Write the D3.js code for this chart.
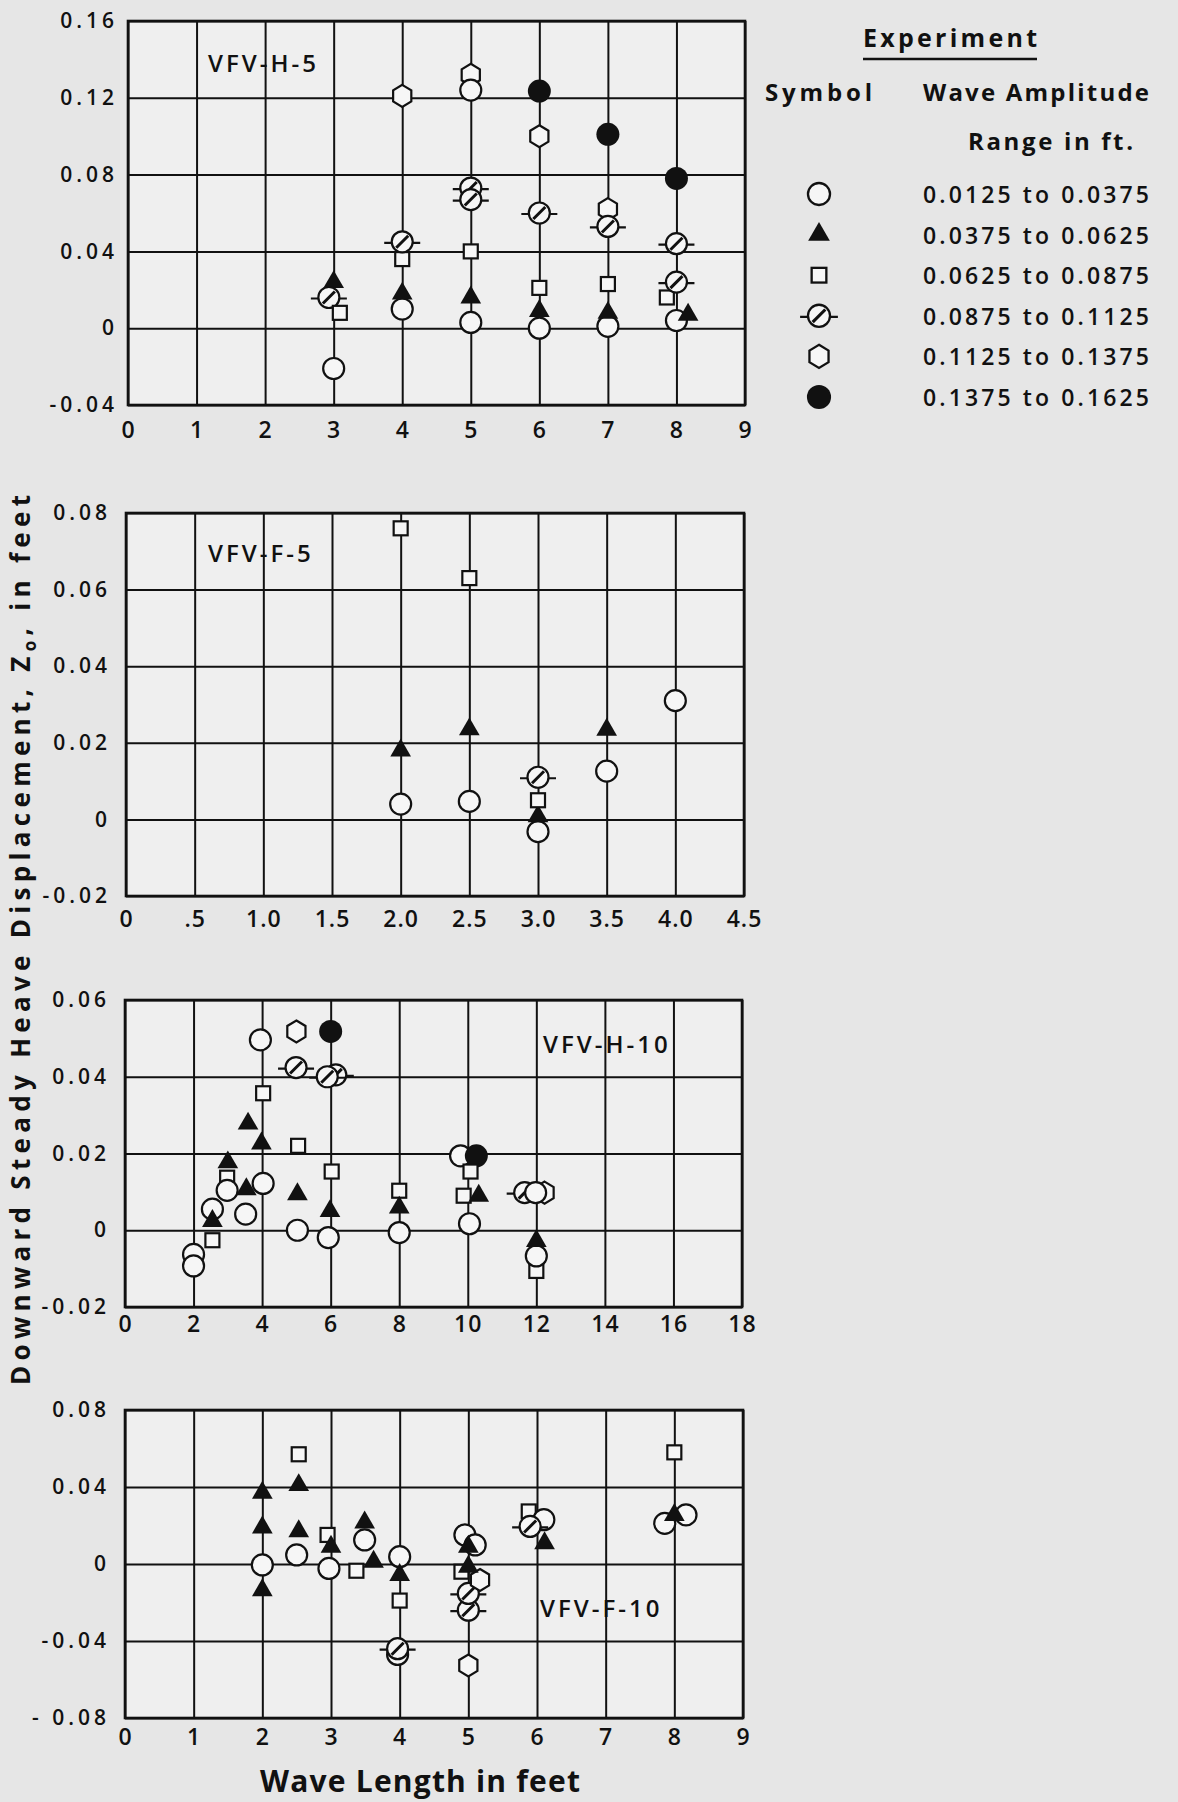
<!DOCTYPE html>
<html>
<head>
<meta charset="utf-8">
<script src="https://cdn.jsdelivr.net/npm/d3@7"></script>
<style>
  body { margin: 0; background: #e6e6e6; }
  svg text { font-family: "Open Sans", "DejaVu Sans", sans-serif; fill: #111; }
</style>
</head>
<body>
<svg id="chart" width="1178" height="1802"></svg>
<script>
/* -------------------------------------------------------------------------- */
// symbols: c = open circle, t = triangle, s = square, d = slashed circle,
//          h = hexagon, f = filled circle
// each point: [symbol, wave length (ft), heave (ft)]

const h5Points = [
  ["t", 3, 0.024], ["d", 2.93, 0.016], ["s", 3.09, 0.008], ["c", 3, -0.021],
  ["h", 4, 0.121], ["s", 4, 0.036], ["d", 4, 0.045], ["c", 4, 0.010], ["t", 4, 0.018],
  ["h", 5, 0.132], ["c", 5, 0.124], ["d", 5, 0.073], ["d", 5, 0.067], ["s", 5, 0.040], ["c", 5, 0.003], ["t", 5, 0.016],
  ["f", 6, 0.1235], ["h", 6, 0.100], ["d", 6, 0.060], ["s", 6, 0.021], ["c", 6, 0.000], ["t", 6, 0.009],
  ["f", 7, 0.101], ["h", 7, 0.062], ["d", 7, 0.053], ["s", 7, 0.023], ["c", 7, 0.001], ["t", 7, 0.008],
  ["f", 8, 0.078], ["d", 8, 0.044], ["s", 7.86, 0.016], ["d", 8, 0.024], ["c", 8, 0.004], ["t", 8.17, 0.007]
];

const f5Points = [
  ["s", 2, 0.076], ["t", 2, 0.018], ["c", 2, 0.004],
  ["s", 2.5, 0.063], ["t", 2.5, 0.0235], ["c", 2.5, 0.0047],
  ["c", 3, -0.0032], ["t", 3, 0.0008], ["s", 3, 0.005], ["d", 3, 0.011],
  ["t", 3.5, 0.0234], ["c", 3.5, 0.0126],
  ["c", 4, 0.031]
];

const h10Points = [
  ["c", 2.0, -0.0063], ["c", 2.0, -0.0093],
  ["s", 2.55, -0.0026], ["c", 2.55, 0.0055], ["t", 2.55, 0.0024],
  ["s", 2.98, 0.0137], ["c", 2.98, 0.0104], ["t", 3.0, 0.0177],
  ["c", 3.52, 0.0042], ["t", 3.54, 0.0107], ["t", 3.59, 0.0278],
  ["c", 4.03, 0.0122], ["t", 3.98, 0.0226], ["s", 4.03, 0.0357], ["c", 3.95, 0.0496],
  ["h", 5.0, 0.0518], ["f", 6.0, 0.0518], ["d", 4.99, 0.0424], ["d", 6.15, 0.0405], ["d", 5.9, 0.040],
  ["s", 5.05, 0.022], ["t", 5.03, 0.0094], ["c", 5.03, 0.0],
  ["s", 6.03, 0.0153], ["t", 5.98, 0.005], ["c", 5.93, -0.0019],
  ["s", 8.0, 0.0103], ["t", 8.0, 0.0059], ["c", 8.0, -0.0006],
  ["c", 9.79, 0.0194], ["f", 10.25, 0.0194], ["s", 10.08, 0.0153], ["s", 9.88, 0.009], ["t", 10.32, 0.009], ["c", 10.05, 0.0017],
  ["d", 11.66, 0.0098], ["h", 12.24, 0.0098], ["c", 11.98, 0.0098],
  ["s", 12, -0.0106], ["c", 12, -0.0067], ["t", 12, -0.0028]
];

const f10Points = [
  ["t", 2, 0.037], ["t", 2, 0.019], ["t", 2, -0.0136], ["c", 2, -0.0005],
  ["s", 2.53, 0.057], ["t", 2.53, 0.041], ["t", 2.53, 0.017], ["c", 2.5, 0.0047],
  ["s", 2.95, 0.0151], ["t", 3, 0.009], ["c", 2.97, -0.0023],
  ["t", 3.49, 0.0216], ["c", 3.49, 0.0125], ["s", 3.37, -0.0035], ["t", 3.62, 0.0012],
  ["s", 4, -0.019], ["c", 3.97, -0.047], ["d", 3.97, -0.044], ["c", 4, 0.0038], ["t", 4, -0.0057],
  ["h", 5, -0.0527], ["d", 5, -0.024], ["d", 5, -0.0153], ["h", 5.17, -0.0083], ["s", 4.9, -0.004],
  ["c", 4.95, 0.0151], ["c", 5.1, 0.0099], ["t", 5, 0.009], ["t", 5, -0.0014],
  ["s", 5.88, 0.0273], ["c", 6.1, 0.023], ["d", 5.9, 0.0195], ["t", 6.11, 0.0108],
  ["s", 8, 0.058], ["c", 7.86, 0.0211], ["c", 8.17, 0.0255], ["t", 8, 0.0255]
];

// ticks
const h5XTicks = [0, 1, 2, 3, 4, 5, 6, 7, 8, 9];
const h5XLabels = ["0", "1", "2", "3", "4", "5", "6", "7", "8", "9"];
const h5YTicks = [-0.04, 0, 0.04, 0.08, 0.12, 0.16];
const h5YLabels = ["-0.04", "0", "0.04", "0.08", "0.12", "0.16"];

const f5XTicks = [0, 0.5, 1, 1.5, 2, 2.5, 3, 3.5, 4, 4.5];
const f5XLabels = ["0", ".5", "1.0", "1.5", "2.0", "2.5", "3.0", "3.5", "4.0", "4.5"];
const f5YTicks = [-0.02, 0, 0.02, 0.04, 0.06, 0.08];
const f5YLabels = ["-0.02", "0", "0.02", "0.04", "0.06", "0.08"];

const h10XTicks = [0, 2, 4, 6, 8, 10, 12, 14, 16, 18];
const h10XLabels = ["0", "2", "4", "6", "8", "10", "12", "14", "16", "18"];
const h10YTicks = [-0.02, 0, 0.02, 0.04, 0.06];
const h10YLabels = ["-0.02", "0", "0.02", "0.04", "0.06"];

const f10XTicks = [0, 1, 2, 3, 4, 5, 6, 7, 8, 9];
const f10XLabels = ["0", "1", "2", "3", "4", "5", "6", "7", "8", "9"];
const f10YTicks = [-0.08, -0.04, 0, 0.04, 0.08];
const f10YLabels = ["- 0.08", "-0.04", "0", "0.04", "0.08"];

const legendSymbols = ["c", "t", "s", "d", "h", "f"];
const legendRanges = ["0.0125 to 0.0375", "0.0375 to 0.0625", "0.0625 to 0.0875",
                      "0.0875 to 0.1125", "0.1125 to 0.1375", "0.1375 to 0.1625"];

/* -------------------------------------------------------------------------- */
const INK = "#111",
      PAPER = "#efefef",
      MARK = "#f6f6f6";

let svg = d3.select("#chart");
svg.append("rect").attr("width", 1178).attr("height", 1802).attr("fill", "#e6e6e6");

let panels = [
  {tag: "VFV-H-5", tagPos: [208, 72], points: h5Points,
   xTicks: h5XTicks, xLabels: h5XLabels, yTicks: h5YTicks, yLabels: h5YLabels,
   box: [128, 745, 21, 405], ypad: 10, xpad: 17},
  {tag: "VFV-F-5", tagPos: [208, 562], points: f5Points,
   xTicks: f5XTicks, xLabels: f5XLabels, yTicks: f5YTicks, yLabels: f5YLabels,
   box: [126, 744, 513, 896], ypad: 15, xpad: 15},
  {tag: "VFV-H-10", tagPos: [543, 1053], points: h10Points,
   xTicks: h10XTicks, xLabels: h10XLabels, yTicks: h10YTicks, yLabels: h10YLabels,
   box: [125, 742, 1000, 1307], ypad: 15, xpad: 9},
  {tag: "VFV-F-10", tagPos: [540, 1617], points: f10Points,
   xTicks: f10XTicks, xLabels: f10XLabels, yTicks: f10YTicks, yLabels: f10YLabels,
   box: [125, 743, 1410, 1718], ypad: 15, xpad: 11}
];

/* -------------------------------------------------------------------------- */
function drawMarker(g, sym, cx, cy, k) {
  k = k || 1;
  let m = g.append("g").attr("transform", `translate(${cx},${cy}) scale(${k})`);

  if (sym == "c") {
    m.append("circle").attr("r", 10.5).attr("fill", MARK).attr("stroke", INK).attr("stroke-width", 2.2);
  }
  else if (sym == "f") {
    m.append("circle").attr("r", 11.5).attr("fill", INK);
  }
  else if (sym == "s") {
    m.append("rect").attr("x", -7).attr("y", -7).attr("width", 14).attr("height", 14)
     .attr("fill", MARK).attr("stroke", INK).attr("stroke-width", 2.2);
  }
  else if (sym == "t") {
    m.append("path").attr("d", d3.symbol().type(d3.symbolTriangle).size(185)())
     .attr("fill", INK);
  }
  else if (sym == "h") {
    let pts = d3.range(6).map(i => {
      let a = (-90 + 60 * i) * Math.PI / 180;
      return [10.5 * Math.cos(a), 11 * Math.sin(a)];
    });
    m.append("path").attr("d", d3.line()(pts) + "Z")
     .attr("fill", MARK).attr("stroke", INK).attr("stroke-width", 2.2);
  }
  else if (sym == "d") {
    m.append("line").attr("x1", -18).attr("x2", 18).attr("y1", 1).attr("y2", 1)
     .attr("stroke", INK).attr("stroke-width", 2.2);
    m.append("circle").attr("r", 10.5).attr("fill", MARK).attr("stroke", INK).attr("stroke-width", 2.2);
    m.append("line").attr("x1", -6).attr("y1", 6).attr("x2", 6).attr("y2", -6)
     .attr("stroke", INK).attr("stroke-width", 3);
  }
}

/* -------------------------------------------------------------------------- */
function drawPanel(p) {
  let [x0, x1, y0, y1] = p.box;
  let x = d3.scaleLinear().domain(d3.extent(p.xTicks)).range([x0, x1]);
  let y = d3.scaleLinear().domain(d3.extent(p.yTicks)).range([y1, y0]);

  let g = svg.append("g");

  g.append("rect").attr("x", x0).attr("y", y0).attr("width", x1 - x0).attr("height", y1 - y0)
   .attr("fill", PAPER);

  // grid
  g.append("g").attr("transform", `translate(0,${y1})`)
   .call(d3.axisBottom(x).tickValues(p.xTicks).tickSize(-(y1 - y0)).tickFormat(""))
   .call(a => a.select(".domain").remove())
   .selectAll("line").attr("stroke", INK).attr("stroke-width", 2);

  g.append("g").attr("transform", `translate(${x0},0)`)
   .call(d3.axisLeft(y).tickValues(p.yTicks).tickSize(-(x1 - x0)).tickFormat(""))
   .call(a => a.select(".domain").remove())
   .selectAll("line").attr("stroke", INK).attr("stroke-width", 2);

  g.append("rect").attr("x", x0).attr("y", y0).attr("width", x1 - x0).attr("height", y1 - y0)
   .attr("fill", "none").attr("stroke", INK).attr("stroke-width", 2.6);

  // tick labels
  let xa = g.append("g").attr("transform", `translate(0,${y1})`)
   .call(d3.axisBottom(x).tickValues(p.xTicks).tickSize(0).tickPadding(p.xpad)
     .tickFormat((d, i) => p.xLabels[i]));
  xa.select(".domain").remove();
  xa.selectAll("text").attr("font-size", 23).attr("font-weight", 600)
    .attr("letter-spacing", 1).attr("fill", INK).style("font-family", "'Open Sans', sans-serif");

  let ya = g.append("g").attr("transform", `translate(${x0},0)`)
   .call(d3.axisLeft(y).tickValues(p.yTicks).tickSize(0).tickPadding(p.ypad)
     .tickFormat((d, i) => p.yLabels[i]));
  ya.select(".domain").remove();
  ya.selectAll("text").attr("font-size", 21).attr("font-weight", 600)
    .attr("letter-spacing", 4).attr("fill", INK).style("font-family", "'Open Sans', sans-serif");

  // run label
  g.append("text").attr("x", p.tagPos[0]).attr("y", p.tagPos[1])
   .attr("font-size", 24).attr("font-weight", 600).attr("letter-spacing", 3)
   .text(p.tag);

  // points
  let pg = g.append("g");
  p.points.forEach(d => drawMarker(pg, d[0], x(d[1]), y(d[2])));
}

panels.forEach(drawPanel);

/* -------------------------------------------------------------------------- */
// axis titles
svg.append("text")
   .attr("transform", "translate(30,940) rotate(-90)")
   .attr("text-anchor", "middle")
   .attr("font-size", 26).attr("font-weight", 700)
   .attr("textLength", 890).attr("lengthAdjust", "spacing")
   .call(t => {
     t.append("tspan").text("Downward  Steady  Heave  Displacement, Z");
     t.append("tspan").attr("font-size", 17).attr("dy", 6).text("o");
     t.append("tspan").attr("dy", -6).text(", in feet");
   });

svg.append("text")
   .attr("x", 420).attr("y", 1792)
   .attr("text-anchor", "middle")
   .attr("font-size", 30).attr("font-weight", 700)
   .attr("textLength", 320).attr("lengthAdjust", "spacing")
   .text("Wave  Length  in  feet");

/* -------------------------------------------------------------------------- */
// legend
let lg = svg.append("g");

lg.append("text").attr("x", 863).attr("y", 47)
  .attr("font-size", 25).attr("font-weight", 700)
  .attr("textLength", 174).attr("lengthAdjust", "spacing")
  .text("Experiment");
lg.append("line").attr("x1", 863).attr("x2", 1037).attr("y1", 59).attr("y2", 59)
  .attr("stroke", INK).attr("stroke-width", 2.5);

lg.append("text").attr("x", 765).attr("y", 101)
  .attr("font-size", 24).attr("font-weight", 700)
  .attr("textLength", 107).attr("lengthAdjust", "spacing")
  .text("Symbol");
lg.append("text").attr("x", 923).attr("y", 101)
  .attr("font-size", 24).attr("font-weight", 700)
  .attr("textLength", 226).attr("lengthAdjust", "spacing")
  .text("Wave Amplitude");
lg.append("text").attr("x", 968).attr("y", 150)
  .attr("font-size", 24).attr("font-weight", 700)
  .attr("textLength", 165).attr("lengthAdjust", "spacing")
  .text("Range in ft.");

let legendY = d3.scalePoint().domain(d3.range(legendSymbols.length)).range([194, 397]);

legendSymbols.forEach((s, i) => {
  drawMarker(lg, s, 819, legendY(i), 1.05);
  lg.append("text").attr("x", 923).attr("y", legendY(i) + 9)
    .attr("font-size", 23).attr("font-weight", 600)
    .attr("textLength", 226).attr("lengthAdjust", "spacing")
    .text(legendRanges[i]);
});
</script>
</body>
</html>
